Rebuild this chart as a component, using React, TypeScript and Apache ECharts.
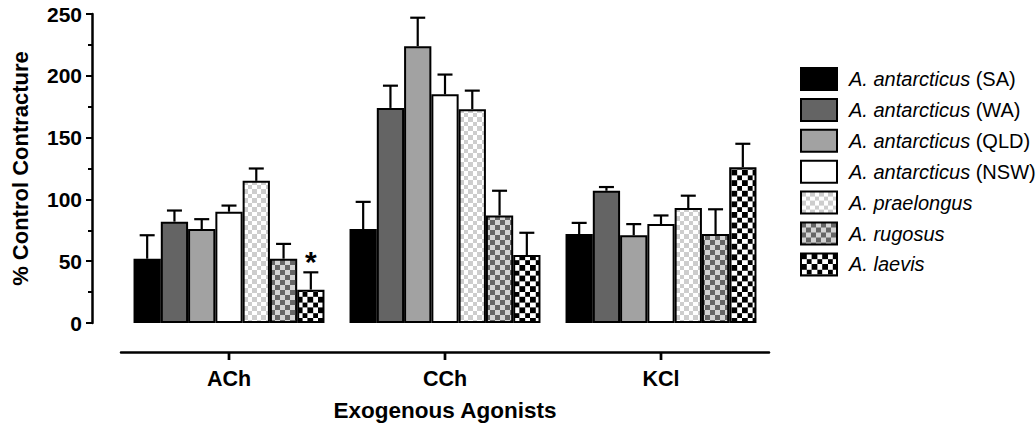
import React, { useEffect, useRef } from "react";
import * as echarts from "echarts";

const categories = ["ACh", "CCh", "KCl"];
const seriesNames = [
  "A. antarcticus (SA)",
  "A. antarcticus (WA)",
  "A. antarcticus (QLD)",
  "A. antarcticus (NSW)",
  "A. praelongus",
  "A. rugosus",
  "A. laevis",
];
const saMean = [52, 76, 72];
const saErr = [19, 22, 9];
const waMean = [82, 174, 107];
const waErr = [9, 18, 3];
const qldMean = [76, 224, 71];
const qldErr = [8, 23, 9];
const nswMean = [90, 185, 80];
const nswErr = [5, 16, 7];
const praeMean = [115, 173, 93];
const praeErr = [10, 15, 10];
const rugMean = [52, 87, 72];
const rugErr = [12, 20, 20];
const laeMean = [27, 55, 126];
const laeErr = [14, 18, 19];
const laeSig = [1, 0, 0];
const yTicks = [0, 50, 100, 150, 200, 250];

const means = [saMean, waMean, qldMean, nswMean, praeMean, rugMean, laeMean];
const errs = [saErr, waErr, qldErr, nswErr, praeErr, rugErr, laeErr];
const sigs = [[0, 0, 0], [0, 0, 0], [0, 0, 0], [0, 0, 0], [0, 0, 0], [0, 0, 0], laeSig];

const FONT = "'Liberation Sans', Arial, sans-serif";
const GAP = 0.116;
const X_OFFSET = 29;

function checker(fg: string, bg: string, c: number) {
  const s = c * 2;
  const svg = `<svg xmlns="http://www.w3.org/2000/svg" width="${s}" height="${s}" shape-rendering="crispEdges"><rect width="${s}" height="${s}" fill="${bg}"/><rect width="${c}" height="${c}" fill="${fg}"/><rect x="${c}" y="${c}" width="${c}" height="${c}" fill="${fg}"/></svg>`;
  return {
    image: "data:image/svg+xml;charset=utf-8," + encodeURIComponent(svg),
    repeat: "repeat",
    imageWidth: s,
    imageHeight: s,
  } as any;
}

const fills: any[] = [
  "#000000",
  "#646464",
  "#a2a2a2",
  "#ffffff",
  checker("#cdcdcd", "#ffffff", 4.5),
  checker("#666666", "#d4d4d4", 5),
  checker("#000000", "#ffffff", 5.3),
];

export default function App() {
  const ref = useRef<HTMLDivElement>(null);
  useEffect(() => {
    if (!ref.current) return;
    const chart = echarts.init(ref.current, undefined, { renderer: "svg" });
    const barSeries = seriesNames.map((name, i) => ({
      name,
      type: "bar",
      data: means[i],
      barGap: "0%",
      barCategoryGap: GAP * 100 + "%",
      itemStyle: { color: fills[i], borderColor: "#000", borderWidth: 2 },
      z: 2,
    }));
    const errSeries = seriesNames.map((_, i) => ({
      name: "err" + i,
      type: "custom",
      z: 3,
      data: categories.map((_c, k) => [k, means[i][k], errs[i][k], sigs[i][k]]),
      renderItem: (params: any, api: any) => {
        const cat = api.value(0);
        const v = api.value(1);
        const e = api.value(2);
        const sig = api.value(3);
        const top = api.coord([cat, v]);
        const cap = api.coord([cat, v + e]);
        const band = api.size([1, 0])[0];
        const groupW = band * (1 - GAP);
        const bw = groupW / 7;
        const x = top[0] - groupW / 2 + bw * (i + 0.5);
        const st = { stroke: "#000", lineWidth: 2.2 };
        const children: any[] = [
          { type: "line", shape: { x1: x, y1: top[1], x2: x, y2: cap[1] }, style: st },
          { type: "line", shape: { x1: x - 7.5, y1: cap[1], x2: x + 7.5, y2: cap[1] }, style: st },
        ];
        if (sig) {
          children.push({
            type: "text",
            x,
            y: cap[1] + 4,
            style: {
              text: "*",
              fill: "#000",
              font: `bold 30px ${FONT}`,
              align: "center",
              verticalAlign: "bottom",
            },
          });
        }
        return { type: "group", children };
      },
    }));
    const tickSeries = {
      name: "xticks",
      type: "custom",
      z: 10,
      clip: false,
      silent: true,
      data: categories.map((_c, k) => [k, 0]),
      renderItem: (params: any, api: any) => {
        const p = api.coord([api.value(0), 0]);
        const y0 = p[1] + X_OFFSET;
        return {
          type: "rect",
          shape: { x: p[0] - 1.2, y: y0, width: 2.4, height: 8 },
          style: { fill: "#000" },
        };
      },
    };
    chart.setOption({
      animation: false,
      backgroundColor: "#fff",
      textStyle: { fontFamily: FONT },
      grid: { left: 121, right: 1036 - 769, top: 14, bottom: 103 },
      legend: {
        data: seriesNames,
        orient: "vertical",
        left: 800,
        top: 67,
        padding: 0,
        itemWidth: 36,
        itemHeight: 22,
        itemGap: 6.9,
        icon: "rect",
        selectedMode: false,
        formatter: (name: string) => {
          const m = name.match(/^(.*?)( \(.*\))?$/);
          if (m && m[2]) return `{i|${m[1]}}{n|${m[2]}}`;
          return `{i|${name}}`;
        },
        textStyle: {
          color: "#000",
          fontSize: 20,
          lineHeight: 22,
          height: 22,
          rich: {
            i: { fontStyle: "italic", fontSize: 20, lineHeight: 22, fontFamily: FONT, color: "#000", padding: [0, 0, 0, 7] },
            n: { fontSize: 20, lineHeight: 22, fontFamily: FONT, color: "#000" },
          },
        },
      },
      xAxis: {
        type: "category",
        data: categories,
        offset: X_OFFSET,
        axisLine: { show: true, onZero: false, lineStyle: { color: "#000", width: 2.5 } },
        axisTick: { show: true, interval: 0, alignWithLabel: true, length: 8, lineStyle: { color: "#000", width: 2.4 } },
        axisLabel: { color: "#000", fontWeight: "bold", fontSize: 21.5, fontFamily: FONT, margin: 16, interval: 0 },
        name: "Exogenous Agonists",
        nameLocation: "middle",
        nameGap: 47,
        nameTextStyle: { color: "#000", fontWeight: "bold", fontSize: 22.5, fontFamily: FONT },
      },
      yAxis: {
        type: "value",
        min: 0,
        max: 250,
        interval: 50,
        offset: 29,
        splitLine: { show: false },
        axisLine: { show: true, lineStyle: { color: "#000", width: 2.5 } },
        axisTick: { show: true, length: 6, lineStyle: { color: "#000", width: 2 } },
        minorTick: { show: true, splitNumber: 2, length: 4, lineStyle: { color: "#000", width: 2 } },
        axisLabel: {
          color: "#000",
          fontWeight: "bold",
          fontSize: 21,
          fontFamily: FONT,
          margin: 10,
          formatter: (v: number) => (yTicks.includes(v) ? String(v) : ""),
        },
        name: "% Control Contracture",
        nameLocation: "middle",
        nameGap: 61,
        nameTextStyle: { color: "#000", fontWeight: "bold", fontSize: 22, fontFamily: FONT },
      },
      series: [...barSeries, ...errSeries, tickSeries],
    } as any);
    return () => chart.dispose();
  }, []);
  return (
    <div
      ref={ref}
      style={{ position: "fixed", left: 0, top: 0, width: 1036, height: 427, background: "#fff" }}
    />
  );
}
